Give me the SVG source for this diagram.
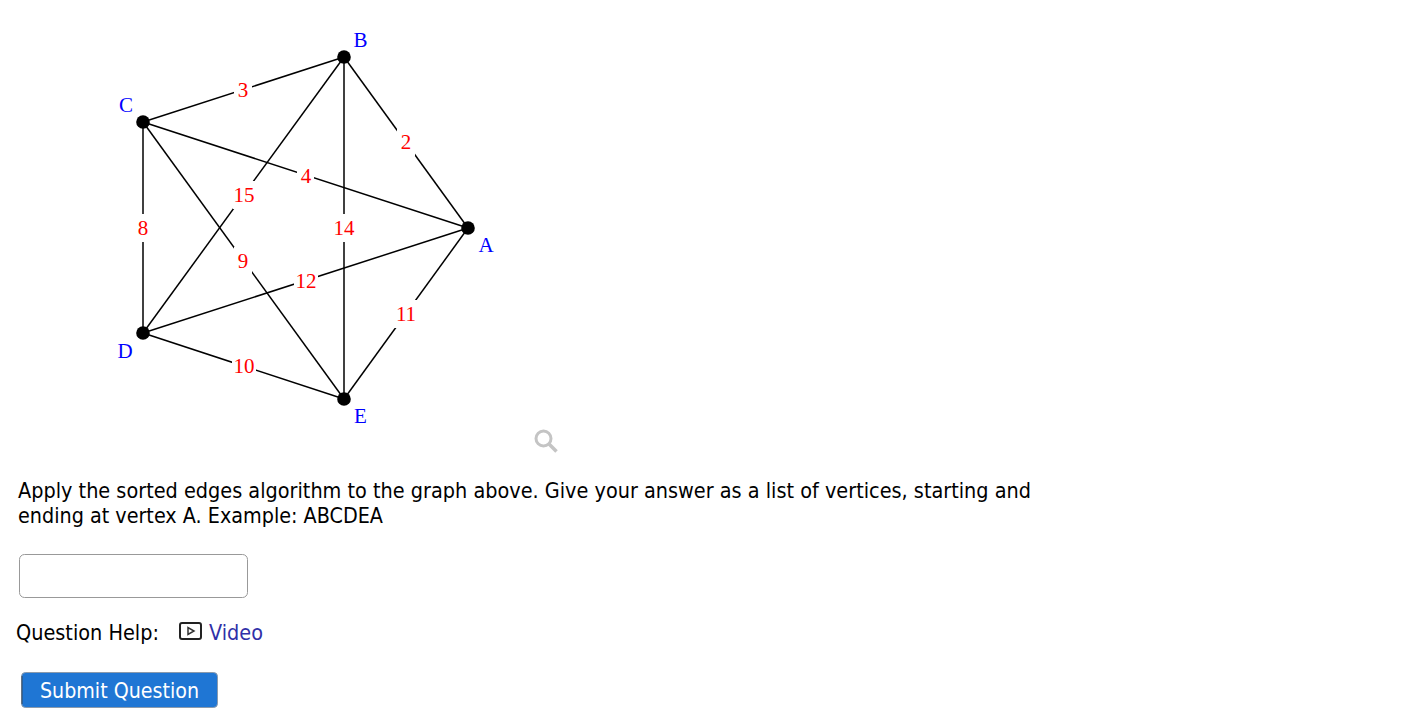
<svg xmlns="http://www.w3.org/2000/svg" width="1426" height="709" viewBox="0 0 1426 709">
<style>
.e{stroke:#000;stroke-width:1.5;fill:none}
.w{fill:#fff;stroke:none}
.l{font:21px "Liberation Serif",serif;fill:#f00;text-anchor:middle}
.n{font:21px "Liberation Serif",serif;fill:#00f;text-anchor:middle}
.t{font:21px "DejaVu Sans",sans-serif;fill:#000}
.d{fill:#000}
</style>
<rect width="1426" height="709" fill="#fff"/>
<g id="connectors">
<line class="e" x1="468" y1="228" x2="344" y2="57"/>
<line class="e" x1="468" y1="228" x2="143" y2="122"/>
<line class="e" x1="468" y1="228" x2="143" y2="333"/>
<line class="e" x1="468" y1="228" x2="344" y2="399"/>
<line class="e" x1="344" y1="57" x2="143" y2="122"/>
<line class="e" x1="344" y1="57" x2="143" y2="333"/>
<line class="e" x1="344" y1="57" x2="344" y2="399"/>
<line class="e" x1="143" y1="122" x2="143" y2="333"/>
<line class="e" x1="143" y1="122" x2="344" y2="399"/>
<line class="e" x1="143" y1="333" x2="344" y2="399"/>
</g>
<g id="edge-labels">
<rect class="w" x="234" y="76" width="18" height="28"/><text class="l" x="243" y="97">3</text>
<rect class="w" x="397" y="128" width="18" height="28"/><text class="l" x="406" y="149">2</text>
<rect class="w" x="297" y="162" width="17" height="28"/><text class="l" x="306" y="183">4</text>
<rect class="w" x="233" y="181" width="22" height="28"/><text class="l" x="244" y="202">15</text>
<rect class="w" x="134" y="214" width="18" height="28"/><text class="l" x="143" y="235">8</text>
<rect class="w" x="332" y="214" width="24" height="28"/><text class="l" x="344" y="235">14</text>
<rect class="w" x="234" y="247" width="18" height="28"/><text class="l" x="243" y="268">9</text>
<rect class="w" x="294" y="267" width="24" height="28"/><text class="l" x="306" y="288">12</text>
<rect class="w" x="394" y="300" width="24" height="28"/><text class="l" x="406" y="321">11</text>
<rect class="w" x="232" y="352" width="24" height="28"/><text class="l" x="244" y="373">10</text>
</g>
<g id="node-A"><circle class="d" cx="468" cy="228" r="6.8"/><text class="n" x="486" y="252">A</text></g>
<g id="node-B"><circle class="d" cx="344" cy="57" r="6.8"/><text class="n" x="360.500" y="47">B</text></g>
<g id="node-C"><circle class="d" cx="143" cy="122" r="6.8"/><text class="n" x="126" y="112">C</text></g>
<g id="node-D"><circle class="d" cx="143" cy="333" r="6.8"/><text class="n" x="125" y="358">D</text></g>
<g id="node-E"><circle class="d" cx="344" cy="399" r="6.8"/><text class="n" x="360.500" y="423">E</text></g>
<g id="magnifier" fill="none" stroke="#c4c4c4"><circle cx="543.500" cy="438.500" r="7.500" stroke-width="3"/><line x1="549" y1="444" x2="556.500" y2="451.500" stroke-width="3.500"/></g>
<text class="t" x="18" y="498" textLength="1013" lengthAdjust="spacingAndGlyphs">Apply the sorted edges algorithm to the graph above. Give your answer as a list of vertices, starting and</text>
<text class="t" x="18" y="523" textLength="365" lengthAdjust="spacingAndGlyphs">ending at vertex A. Example: ABCDEA</text>
<rect x="19.500" y="554.500" width="228" height="43" rx="5" fill="#fff" stroke="#999"/>
<text class="t" x="16" y="640" textLength="143" lengthAdjust="spacingAndGlyphs">Question Help:</text>
<g id="video-icon"><rect x="180" y="623" width="21" height="16" rx="2" fill="none" stroke="#222" stroke-width="2"/><path d="M188 627.500v7l6-3.500z" fill="none" stroke="#333" stroke-width="1.500"/></g>
<text class="t" x="209" y="640" textLength="54" lengthAdjust="spacingAndGlyphs" style="fill:#3030a8">Video</text>
<g id="submit"><rect x="21.500" y="672.500" width="196" height="35" rx="4" fill="#1f76d4" stroke="#8a9aac"/><path d="M22 676v28" stroke="#3a4a5c" fill="none"/><text class="t" x="40" y="698" textLength="159" lengthAdjust="spacingAndGlyphs" style="fill:#fff">Submit Question</text></g>
</svg>
